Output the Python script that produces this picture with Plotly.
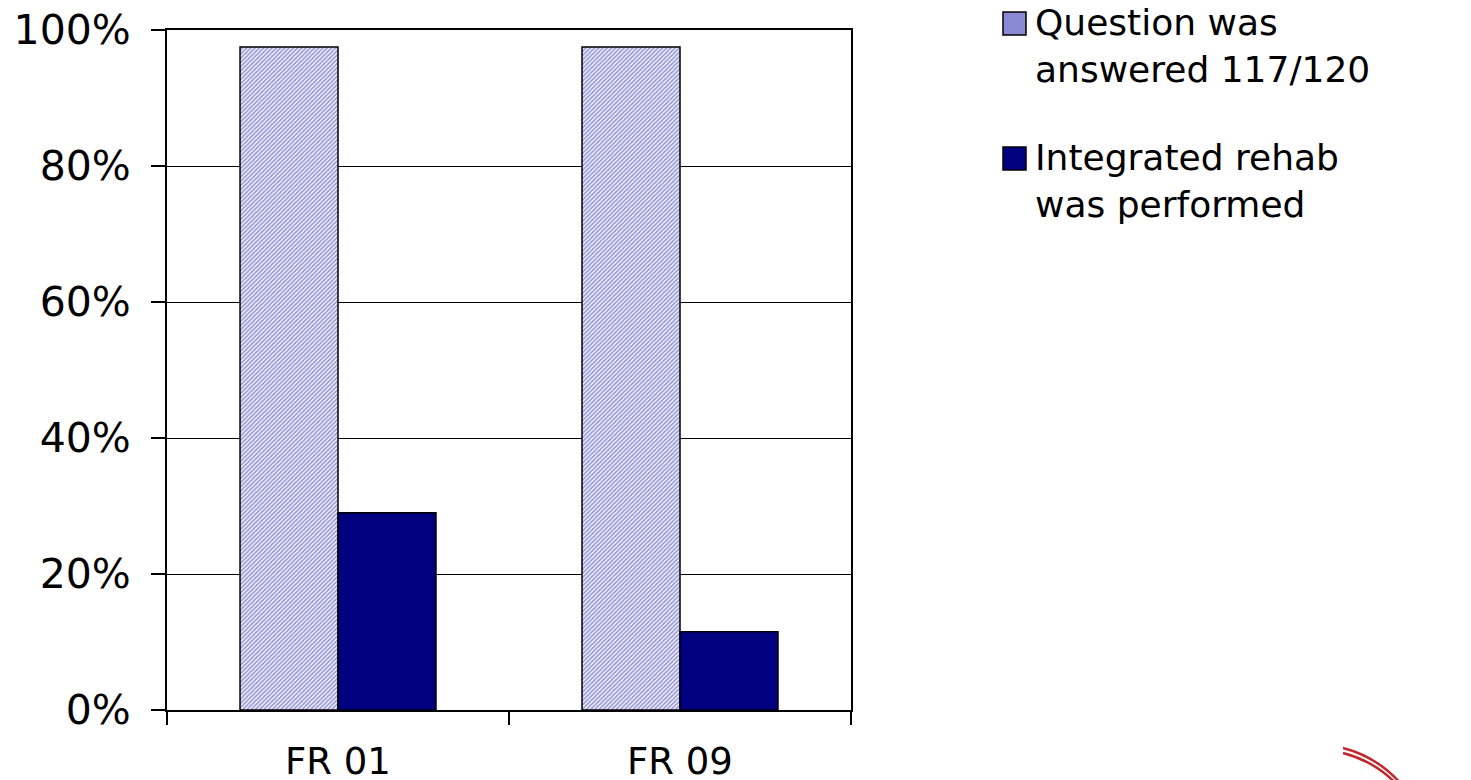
import plotly.graph_objects as go

# data
sites = ["FR 01", "FR 09"]
answered = [0.975, 0.975]
integrated = [0.29, 0.115]
series_names = ["Question was<br>answered 117/120", "Integrated rehab<br>was performed"]

FONT = "DejaVu Sans"

# page is 1471x780 but the html body adds an 8px margin
OFF = 8
W, H = 1471 - OFF, 780 - OFF

# plot area in page pixels (left, right, top, bottom)
L, R, T, B = 167, 851, 30, 710


def px(x):
    return (x - L) / (R - L)


def py(y):
    return (B - y) / (B - T)


fig = go.Figure()
fig.add_trace(go.Bar(
    x=sites, y=answered, name=series_names[0],
    marker=dict(
        color="white",
        line=dict(color="black", width=1.5),
        pattern=dict(shape="/", fgcolor="#3434b4", bgcolor="white", size=3, solidity=0.6),
    ),
))
fig.add_trace(go.Bar(
    x=sites, y=integrated, name=series_names[1],
    marker=dict(color="#000080", line=dict(color="black", width=1.5)),
))

# hand-drawn legend (swatches larger than plotly's fixed legend icons)
swatches = [("#8a8ad4", 12, 35), ("#000080", 147, 170)]
for (fill, y0, y1), name in zip(swatches, series_names):
    fig.add_shape(type="rect", xref="paper", yref="paper",
                  x0=px(1003), x1=px(1026), y0=py(y1), y1=py(y0),
                  fillcolor=fill, line=dict(color="black", width=1.5))
    fig.add_annotation(xref="paper", yref="paper", x=px(1033), y=py(y0 - 12),
                       xanchor="left", yanchor="top", align="left", showarrow=False,
                       text=name, font=dict(family=FONT, size=36, color="black"))

# partial logo in the bottom right corner
for dy in (0, 5):
    fig.add_shape(type="path", xref="paper", yref="paper",
                  path="M {},{} Q {},{} {},{}".format(px(1343), py(748 + dy), px(1378), py(757 + dy),
                                                       px(1402), py(785 + dy)),
                  line=dict(color="#c0282d", width=2.5))

fig.update_layout(
    width=W, height=H,
    margin=dict(l=L - OFF, r=1471 - R, t=T - OFF, b=780 - B),
    paper_bgcolor="white", plot_bgcolor="white",
    barmode="group", bargap=0.427, bargroupgap=0,
    showlegend=False,
    font=dict(family=FONT, color="black"),
)
fig.update_xaxes(
    automargin=False,
    showline=True, linecolor="black", linewidth=2, mirror=True,
    ticks="outside", ticklen=13, tickwidth=1.5, tickcolor="black", tickson="boundaries",
    tickfont=dict(size=37), ticklabelstandoff=18,
)
fig.update_yaxes(
    automargin=False, ticklabeloverflow="allow",
    range=[0, 1], dtick=0.2, tickformat=".0%",
    showline=True, linecolor="black", linewidth=2, mirror=True,
    showgrid=True, gridcolor="black", gridwidth=1.2,
    ticks="outside", ticklen=14, tickwidth=1.5, tickcolor="black",
    tickfont=dict(size=41), ticklabelstandoff=12,
)

fig.write_html("out.html")
